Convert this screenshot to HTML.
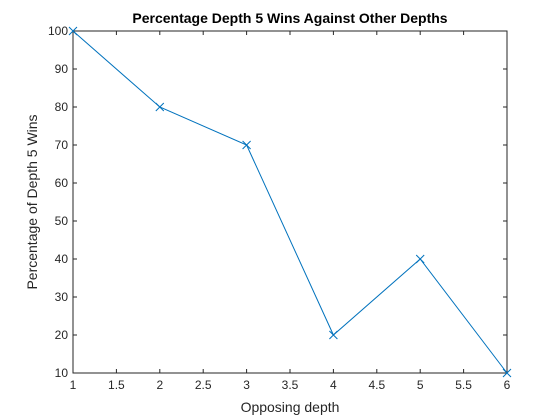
<!DOCTYPE html>
<html><head><meta charset="utf-8"><style>body{margin:0;background:#fff}svg{display:block;font-family:"Liberation Sans",sans-serif}</style></head>
<body>
<svg id="c" width="560" height="420"></svg>
<script>
const xValues=[1,2,3,4,5,6];
const yValues=[100,80,70,20,40,10];
const xTicks=[1,1.5,2,2.5,3,3.5,4,4.5,5,5.5,6];
const yTicks=[10,20,30,40,50,60,70,80,90,100];
const L=73,R=507,T=31,B=373;
const sx=v=>L+(v-1)/5*(R-L), sy=v=>B-(v-10)/90*(B-T);
const svg=document.getElementById('c');const NS='http://www.w3.org/2000/svg';
function el(t,a,txt){const e=document.createElementNS(NS,t);for(const k in a)e.setAttribute(k,a[k]);if(txt!==undefined)e.textContent=txt;svg.appendChild(e);return e;}
let e=el('rect',{x:L,y:T,width:R-L,height:B-T,fill:'#fff',stroke:'#262626','stroke-width':1});


xTicks.forEach(v=>{const x=sx(v);
 el('line',{x1:x,x2:x,y1:B,y2:B-4,stroke:'#262626'});el('line',{x1:x,x2:x,y1:T,y2:T+4,stroke:'#262626'});
 const t=el('text',{x:x,y:B+16,'text-anchor':'middle','font-size':12,fill:'#262626'},String(v));
 
 });
yTicks.forEach(v=>{const y=sy(v);
 el('line',{x1:L,x2:L+4,y1:y,y2:y,stroke:'#262626'});el('line',{x1:R,x2:R-4,y1:y,y2:y,stroke:'#262626'});
 const t=el('text',{x:L-5,y:y+4,'text-anchor':'end','font-size':12,fill:'#262626'},String(v));
 
 });
const pts=xValues.map((v,i)=>sx(v)+','+sy(yValues[i])).join(' ');
e=el('polyline',{points:pts,fill:'none',stroke:'#0072bd','stroke-width':1});


xValues.forEach((v,i)=>{const x=sx(v),y=sy(yValues[i]);
 const m=el('path',{d:`M${x-4},${y-4}L${x+4},${y+4}M${x-4},${y+4}L${x+4},${y-4}`,stroke:'#0072bd','stroke-width':1});
 
 });
e=el('text',{x:(L+R)/2,y:23,'text-anchor':'middle','font-size':14,'font-weight':'bold',fill:'#000'},'Percentage Depth 5 Wins Against Other Depths');


e=el('text',{x:(L+R)/2,y:412,'text-anchor':'middle','font-size':14,fill:'#262626'},'Opposing depth');


e=el('text',{x:37,y:(T+B)/2,'text-anchor':'middle','font-size':14,fill:'#262626',transform:`rotate(-90 37 ${(T+B)/2})`},'Percentage of Depth 5 Wins');


</script>
</body></html>
